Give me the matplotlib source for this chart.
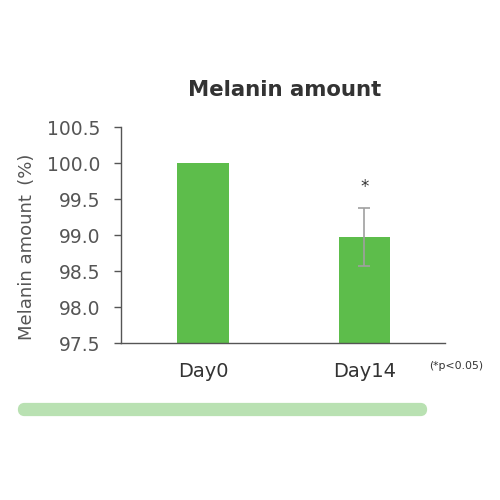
import matplotlib
matplotlib.use("Agg")
import matplotlib.pyplot as plt
from matplotlib.patches import FancyBboxPatch

# Data
categories = ["Day0", "Day14"]
values = [100.0, 98.97]
errors = [0.0, 0.40]
significance = ["", "*"]
yticks = [97.5, 98.0, 98.5, 99.0, 99.5, 100.0, 100.5]

bar_color = "#5dbd4b"
text_color = "#555555"

fig = plt.figure(figsize=(5, 5), dpi=100)
ax = fig.add_axes([121 / 500, 1 - 343 / 500, (445 - 121) / 500, (343 - 127) / 500])

x = list(range(len(categories)))
ax.bar(x, values, width=0.32, color=bar_color, bottom=0, zorder=2)
for xi, v, e in zip(x, values, errors):
    if e > 0:
        ax.errorbar(xi, v, yerr=e, ecolor="#a0a0a0", elinewidth=1.2,
                    capsize=4, capthick=1.2, fmt="none", zorder=3)
for xi, v, e, s in zip(x, values, errors, significance):
    if s:
        ax.text(xi, v + e + 0.3, s, ha="center", va="center",
                fontsize=12, color="#333333")

ax.set_ylim(97.5, 100.5)
ax.set_xlim(-0.51, 1.5)
ax.set_yticks(yticks)
ax.set_yticklabels([f"{t:.1f}" for t in yticks])
ax.set_xticks(x)
ax.set_xticklabels(categories)

for side in ("top", "right"):
    ax.spines[side].set_visible(False)
for side in ("left", "bottom"):
    ax.spines[side].set_color("#555555")
    ax.spines[side].set_linewidth(1.0)

ax.tick_params(axis="y", length=5, width=1, colors="#555555",
               labelsize=13.5, labelcolor=text_color, pad=10)
ax.tick_params(axis="x", length=0, labelsize=14, labelcolor="#333333", pad=14)

fig.text(27 / 500, 1 - 247 / 500, "Melanin amount\u2009 (%)", rotation=90,
         ha="center", va="center", fontsize=13, color=text_color)

fig.text(285 / 500, 1 - 90 / 500, "Melanin amount", ha="center", va="center",
         fontsize=15.3, fontweight="bold", color="#333333")
fig.text(456 / 500, 1 - 366 / 500, "(*p<0.05)", ha="center", va="center",
         fontsize=7.8, color="#333333")

band = FancyBboxPatch((21 / 500, 1 - 413 / 500), (424 - 21) / 500, 7 / 500,
                      boxstyle="round,pad=0.0,rounding_size=0.007",
                      transform=fig.transFigure, facecolor="#b9e1b2",
                      edgecolor="#b9e1b2", linewidth=4.5)
fig.patches.append(band)

fig.savefig("out.png", dpi=100)
